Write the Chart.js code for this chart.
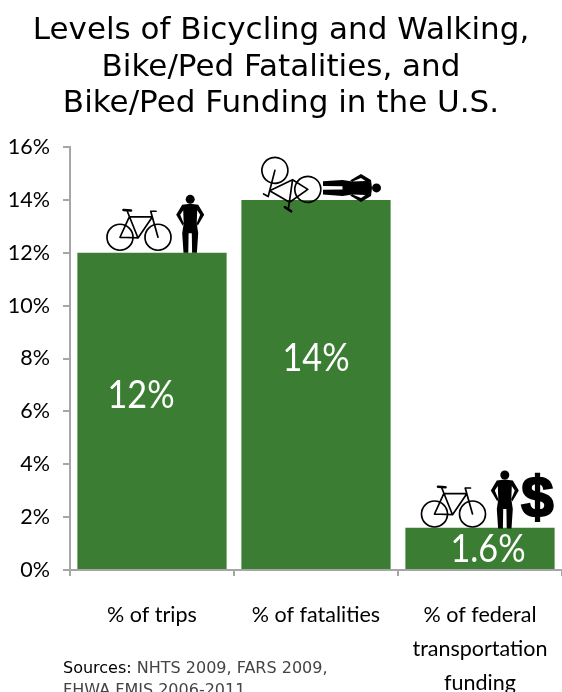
<!DOCTYPE html>
<html>
<head>
<meta charset="utf-8">
<style>html,body{margin:0;padding:0;background:#fff;overflow:hidden}canvas{display:block}</style>
<script src="https://cdn.jsdelivr.net/npm/chart.js@4"></script>
</head>
<body>
<canvas id="c" width="562" height="692"></canvas>
<script>
const categories = [["% of trips"], ["% of fatalities"], ["% of federal", "transportation", "funding"]];
const values = [12, 14, 1.6];
const valueLabels = ["12%", "14%", "1.6%"];
const labelHeights = [6.6, 8.0, 0.77];
const titleLines = ["Levels of Bicycling and Walking,", "Bike/Ped Fatalities, and", "Bike/Ped Funding in the U.S."];
const sourceLead = "Sources:";
const sourceLines = [" NHTS 2009, FARS 2009,", "FHWA FMIS 2006-2011"];

const GREEN = "#3b7d32", AXIS = "#a6a6a6";

function drawBike(ctx, x, y, angle) {
  ctx.save();
  ctx.translate(x, y);
  ctx.rotate(angle);
  ctx.strokeStyle = "#000";
  ctx.lineCap = "round";
  ctx.lineJoin = "round";
  ctx.lineWidth = 1.7;
  ctx.beginPath(); ctx.arc(0, 0, 13, 0, Math.PI * 2); ctx.stroke();
  ctx.beginPath(); ctx.arc(38, 0, 13, 0, Math.PI * 2); ctx.stroke();
  ctx.beginPath();
  ctx.moveTo(0, 0); ctx.lineTo(18, 0.7); ctx.lineTo(7.3, -26);
  ctx.moveTo(0, 0); ctx.lineTo(9.3, -20.3); ctx.lineTo(32.3, -20.3); ctx.lineTo(18, 0.7);
  ctx.moveTo(38, 0); ctx.lineTo(30.7, -26); ctx.lineTo(36, -26);
  ctx.stroke();
  ctx.lineWidth = 2.6;
  ctx.beginPath(); ctx.moveTo(3.5, -27.3); ctx.lineTo(11, -26.8); ctx.stroke();
  ctx.restore();
}

function drawPerson(ctx, x, y, angle) {
  const half = [[0, 49.5], [8, 48.5], [14, 38.5], [7.5, 27.5], [6.5, 30], [10, 38.5], [7, 43], [6.5, 30], [8, 20], [6.7, 0.5], [1.9, 0.5], [1.6, 20], [0, 20]];
  ctx.save();
  ctx.translate(x, y);
  ctx.rotate(angle);
  ctx.fillStyle = "#000";
  ctx.beginPath();
  half.forEach((p, i) => i ? ctx.lineTo(p[0], -p[1]) : ctx.moveTo(p[0], -p[1]));
  half.slice().reverse().forEach(p => ctx.lineTo(-p[0], -p[1]));
  ctx.closePath();
  ctx.fill();
  ctx.beginPath(); ctx.arc(0, -54, 4.5, 0, Math.PI * 2); ctx.fill();
  ctx.restore();
}

const overlay = {
  id: "overlay",
  afterDatasetsDraw(chart) {
    const { ctx, scales: { x: sx, y: sy } } = chart;
    const cx = values.map((_, i) => sx.getPixelForValue(i));
    const top = values.map(v => sy.getPixelForValue(v));
    const labelShift = [-11, 0, 8];

    valueLabels.forEach((t, i) => {
      ctx.save();
      ctx.translate(cx[i] + labelShift[i], sy.getPixelForValue(labelHeights[i]));
      ctx.scale(0.95, 1.1);
      ctx.fillStyle = "#fff";
      ctx.textAlign = "center";
      ctx.textBaseline = "middle";
      ctx.font = "36px Lato";
      ctx.fillText(t, 0, 0);
      ctx.restore();
    });

    drawBike(ctx, cx[0] - 32, top[0] - 15.5, 0);
    drawPerson(ctx, cx[0] + 38.2, top[0] + 0.6, 0);

    drawBike(ctx, cx[1] - 8.2, top[1] - 10.5, Math.PI * 7 / 6);
    drawPerson(ctx, cx[1] + 6.5, top[1] - 12, Math.PI / 2);

    drawBike(ctx, cx[2] - 45.5, top[2] - 13.7, 0);
    drawPerson(ctx, cx[2] + 24.8, top[2] + 1.3, 0);

    ctx.save();
    ctx.fillStyle = "#000";
    ctx.strokeStyle = "#000";
    ctx.lineWidth = 2.2;
    ctx.textAlign = "center";
    ctx.textBaseline = "middle";
    ctx.font = "bold 58px 'Liberation Sans'";
    ctx.fillText("$", cx[2] + 57.5, top[2] - 27);
    ctx.strokeText("$", cx[2] + 57.5, top[2] - 27);
    ctx.restore();

    ctx.save();
    ctx.textAlign = "left";
    ctx.textBaseline = "alphabetic";
    ctx.font = "16px 'DejaVu Sans'";
    ctx.fillStyle = "#000";
    ctx.fillText(sourceLead, 63, 672.5);
    const w = ctx.measureText(sourceLead).width;
    ctx.fillStyle = "#444";
    ctx.fillText(sourceLines[0], 63 + w, 672.5);
    ctx.fillText(sourceLines[1], 63, 695);
    ctx.restore();
  }
};

new Chart(document.getElementById("c"), {
  type: "bar",
  data: {
    labels: categories,
    datasets: [{ data: values, backgroundColor: GREEN, borderWidth: 0, barPercentage: 1, categoryPercentage: 0.91 }]
  },
  plugins: [overlay],
  options: {
    responsive: false,
    animation: false,
    layout: { padding: 0 },
    plugins: {
      legend: { display: false },
      tooltip: { enabled: false },
      title: {
        display: true,
        text: titleLines,
        color: "#000",
        font: { family: "'DejaVu Sans'", size: 31, weight: "normal", lineHeight: 36.5 / 31 },
        padding: { top: 13, bottom: 24.5 }
      }
    },
    scales: {
      x: {
        afterFit(s) { s.height = 122; s.paddingLeft = 0; s.paddingRight = 0; },
        grid: { drawOnChartArea: false, drawTicks: true, tickLength: 6, color: AXIS, lineWidth: 2 },
        border: { color: AXIS, width: 2 },
        ticks: {
          color: "#000", maxRotation: 0, minRotation: 0, autoSkip: false, padding: 22,
          font: { family: "Lato", size: 21.5, lineHeight: 34 / 21.5 }
        }
      },
      y: {
        min: 0, max: 16,
        afterFit(s) { s.width = 70; },
        grid: { drawOnChartArea: false, drawTicks: true, tickLength: 7, color: AXIS, lineWidth: 2 },
        border: { color: AXIS, width: 2 },
        ticks: {
          stepSize: 2, color: "#000", padding: 13,
          font: { family: "Lato", size: 21.5 },
          callback: v => v + "%"
        }
      }
    }
  }
});
</script>
</body>
</html>
